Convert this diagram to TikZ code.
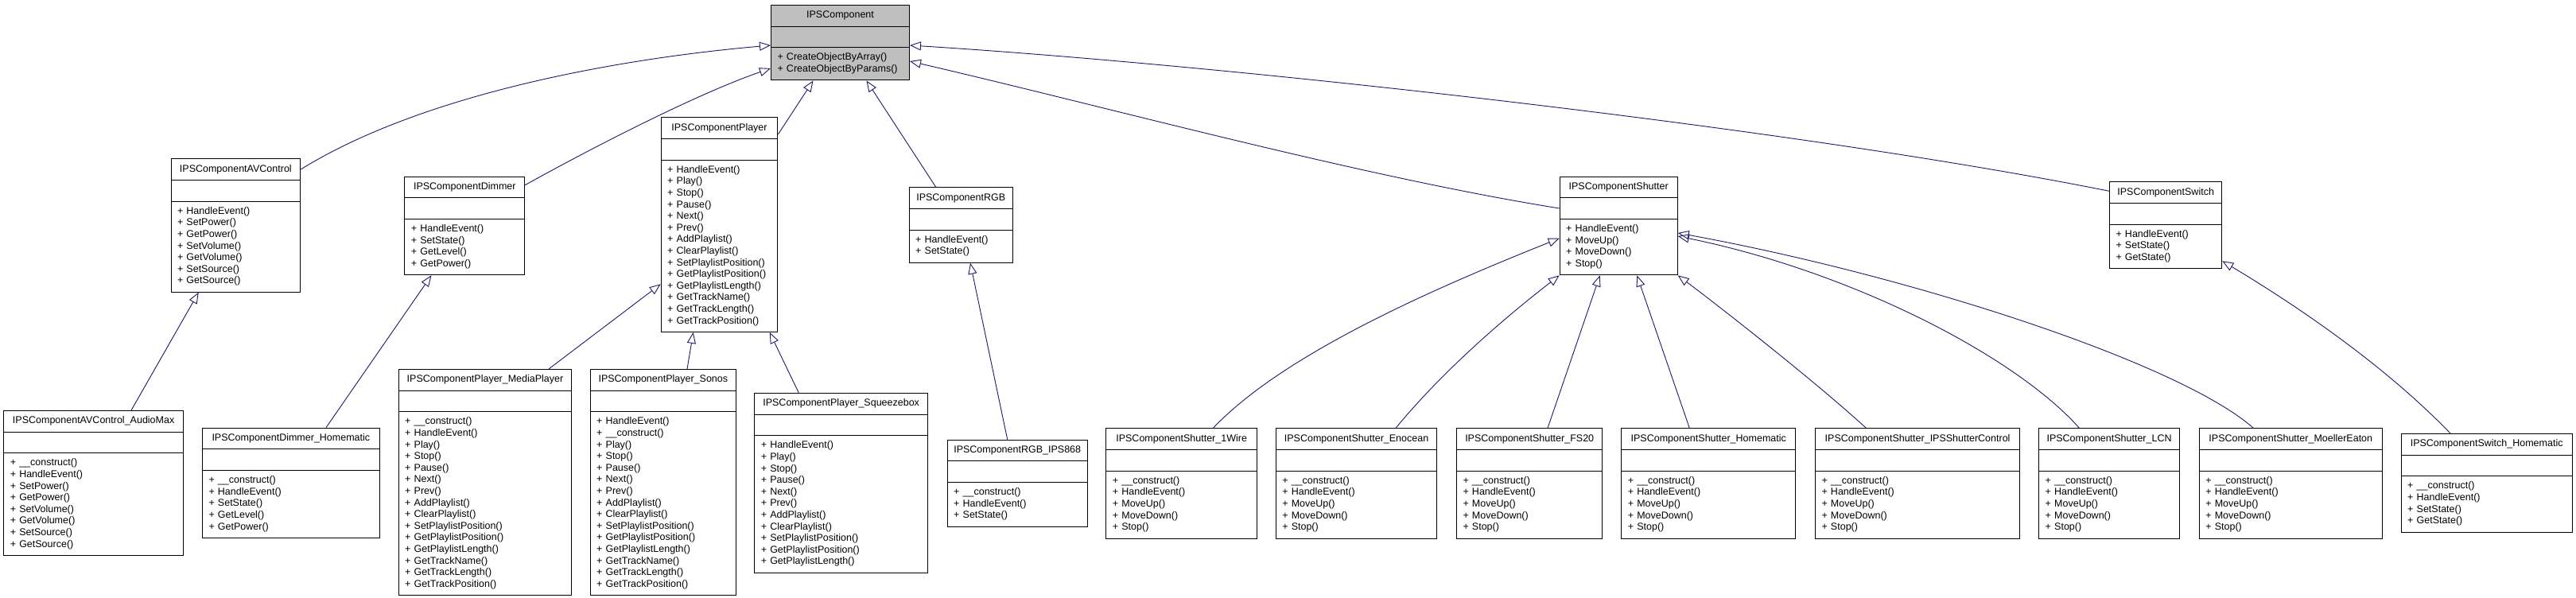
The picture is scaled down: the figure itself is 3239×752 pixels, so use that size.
\documentclass[tikz,border=0pt]{standalone}
\usepackage{fontspec}
\setmainfont{Liberation Sans}
\usetikzlibrary{shapes.multipart, arrows.meta, calc}
\definecolor{dedge}{HTML}{191970}
\definecolor{dgray}{HTML}{BFBFBF}
\tikzset{
  umlclass/.style={rectangle split, rectangle split parts=3, draw=black, line width=1pt,
                   fill=white, anchor=north west, inner xsep=8pt, inner ysep=5.5pt,
                   align=left, font=\fontsize{12.5}{14.6}\selectfont},
  inherit/.style={draw=dedge, line width=0.9pt, -{Triangle[open, length=14pt, width=11pt]}}
}
\newcommand{\umltitle}[1]{\strut\hfill #1\hfill\null\nodepart{two}\strut\nodepart{three}\strut}

\begin{document}
\begin{tikzpicture}[x=1pt, y=-1pt]
  \path[use as bounding box, fill=white] (0,0) rectangle (3239,752);

  % base class
  \node[umlclass, fill=dgray, text width=158pt] (base) at (969,6)
    {\umltitle{IPSComponent}+ CreateObjectByArray()\\+ CreateObjectByParams()\strut};

  % first level
  \node[umlclass, text width=146.7pt] (avctrl) at (214.5,199.3)
    {\umltitle{IPSComponentAVControl}+ HandleEvent()\\+ SetPower()\\+ GetPower()\\+ SetVolume()\\+ GetVolume()\\+ SetSource()\\+ GetSource()\strut};
  \node[umlclass, text width=134.8pt] (dimmer) at (508.4,221.7)
    {\umltitle{IPSComponentDimmer}+ HandleEvent()\\+ SetState()\\+ GetLevel()\\+ GetPower()\strut};
  \node[umlclass, text width=130.6pt] (player) at (830.7,147.3)
    {\umltitle{IPSComponentPlayer}+ HandleEvent()\\+ Play()\\+ Stop()\\+ Pause()\\+ Next()\\+ Prev()\\+ AddPlaylist()\\+ ClearPlaylist()\\+ SetPlaylistPosition()\\+ GetPlaylistPosition()\\+ GetPlaylistLength()\\+ GetTrackName()\\+ GetTrackLength()\\+ GetTrackPosition()\strut};
  \node[umlclass, text width=114pt] (rgb) at (1142.7,235.3)
    {\umltitle{IPSComponentRGB}+ HandleEvent()\\+ SetState()\strut};
  \node[umlclass, text width=132pt] (shutter) at (1960.7,221.7)
    {\umltitle{IPSComponentShutter}+ HandleEvent()\\+ MoveUp()\\+ MoveDown()\\+ Stop()\strut};
  \node[umlclass, text width=125.3pt] (switch) at (2652,228.3)
    {\umltitle{IPSComponentSwitch}+ HandleEvent()\\+ SetState()\\+ GetState()\strut};

  % second level
  \node[umlclass, text width=209.7pt] (audiomax) at (4.3,516)
    {\umltitle{IPSComponentAVControl\_AudioMax}+ \_\_construct()\\+ HandleEvent()\\+ SetPower()\\+ GetPower()\\+ SetVolume()\\+ GetVolume()\\+ SetSource()\\+ GetSource()\strut};
  \node[umlclass, text width=206.7pt] (dimhm) at (254,537.7)
    {\umltitle{IPSComponentDimmer\_Homematic}+ \_\_construct()\\+ HandleEvent()\\+ SetState()\\+ GetLevel()\\+ GetPower()\strut};
  \node[umlclass, text width=201.6pt] (mediaplayer) at (500.7,464)
    {\umltitle{IPSComponentPlayer\_MediaPlayer}+ \_\_construct()\\+ HandleEvent()\\+ Play()\\+ Stop()\\+ Pause()\\+ Next()\\+ Prev()\\+ AddPlaylist()\\+ ClearPlaylist()\\+ SetPlaylistPosition()\\+ GetPlaylistPosition()\\+ GetPlaylistLength()\\+ GetTrackName()\\+ GetTrackLength()\\+ GetTrackPosition()\strut};
  \node[umlclass, text width=167.3pt] (sonos) at (741.7,464)
    {\umltitle{IPSComponentPlayer\_Sonos}+ HandleEvent()\\+ \_\_construct()\\+ Play()\\+ Stop()\\+ Pause()\\+ Next()\\+ Prev()\\+ AddPlaylist()\\+ ClearPlaylist()\\+ SetPlaylistPosition()\\+ GetPlaylistPosition()\\+ GetPlaylistLength()\\+ GetTrackName()\\+ GetTrackLength()\\+ GetTrackPosition()\strut};
  \node[umlclass, text width=201.7pt] (squeeze) at (948.3,494)
    {\umltitle{IPSComponentPlayer\_Squeezebox}+ HandleEvent()\\+ Play()\\+ Stop()\\+ Pause()\\+ Next()\\+ Prev()\\+ AddPlaylist()\\+ ClearPlaylist()\\+ SetPlaylistPosition()\\+ GetPlaylistPosition()\\+ GetPlaylistLength()\strut};
  \node[umlclass, text width=160pt] (rgb868) at (1190.7,552.7)
    {\umltitle{IPSComponentRGB\_IPS868}+ \_\_construct()\\+ HandleEvent()\\+ SetState()\strut};
  \node[umlclass, text width=173.5pt] (wire1) at (1390.4,538.3)
    {\umltitle{IPSComponentShutter\_1Wire}+ \_\_construct()\\+ HandleEvent()\\+ MoveUp()\\+ MoveDown()\\+ Stop()\strut};
  \node[umlclass, text width=186.5pt] (enocean) at (1603.8,538.3)
    {\umltitle{IPSComponentShutter\_Enocean}+ \_\_construct()\\+ HandleEvent()\\+ MoveUp()\\+ MoveDown()\\+ Stop()\strut};
  \node[umlclass, text width=167.4pt] (fs20) at (1831,538.3)
    {\umltitle{IPSComponentShutter\_FS20}+ \_\_construct()\\+ HandleEvent()\\+ MoveUp()\\+ MoveDown()\\+ Stop()\strut};
  \node[umlclass, text width=202.9pt] (shhm) at (2038.3,538.3)
    {\umltitle{IPSComponentShutter\_Homematic}+ \_\_construct()\\+ HandleEvent()\\+ MoveUp()\\+ MoveDown()\\+ Stop()\strut};
  \node[umlclass, text width=241.2pt] (shctl) at (2282,538.3)
    {\umltitle{IPSComponentShutter\_IPSShutterControl}+ \_\_construct()\\+ HandleEvent()\\+ MoveUp()\\+ MoveDown()\\+ Stop()\strut};
  \node[umlclass, text width=160.7pt] (lcn) at (2563.2,538.3)
    {\umltitle{IPSComponentShutter\_LCN}+ \_\_construct()\\+ HandleEvent()\\+ MoveUp()\\+ MoveDown()\\+ Stop()\strut};
  \node[umlclass, text width=214pt] (moeller) at (2764.8,538.3)
    {\umltitle{IPSComponentShutter\_MoellerEaton}+ \_\_construct()\\+ HandleEvent()\\+ MoveUp()\\+ MoveDown()\\+ Stop()\strut};
  \node[umlclass, text width=198.9pt] (swhm) at (3018.7,545)
    {\umltitle{IPSComponentSwitch\_Homematic}+ \_\_construct()\\+ HandleEvent()\\+ SetState()\\+ GetState()\strut};

  % inheritance to base
  \draw[inherit] ($(avctrl.north east)+(0,13.7)$) .. controls +(150,-93) and +(-200,17.5) .. ($(base.north west)+(0,51)$);
  \draw[inherit] ($(dimmer.north east)+(0,11)$) .. controls +(90,-50) and +(-90,31) .. ($(base.north west)+(0,80)$);
  \draw[inherit] ($(player.north east)+(0,21.7)$) -- ($(base.south west)+(53.5,0)$);
  \draw[inherit] ($(rgb.north west)+(34,0)$) -- ($(base.south west)+(120.5,0)$);
  \draw[inherit] ($(shutter.north west)+(0,40.3)$) .. controls +(-250,-40) and +(250,58) .. ($(base.north east)+(0,71)$);
  \draw[inherit] ($(switch.north west)+(0,12)$) .. controls +(-400,-80) and +(400,25) .. ($(base.north east)+(0,51)$);

  % inheritance to first level
  \draw[inherit] ($(audiomax.north west)+(160.7,0)$) -- ($(avctrl.south west)+(35.2,0)$);
  \draw[inherit] ($(dimhm.north west)+(156,0)$) -- ($(dimmer.south west)+(34,0)$);
  \draw[inherit] ($(mediaplayer.north west)+(189.3,0)$) -- ($(player.north west)+(0,210)$);
  \draw[inherit] ($(sonos.north west)+(122.3,0)$) -- ($(player.south west)+(41,0)$);
  \draw[inherit] ($(squeeze.north west)+(56,0)$) -- ($(player.south west)+(137,0)$);
  \draw[inherit] ($(rgb868.north west)+(76,0)$) -- ($(rgb.south west)+(77.3,0)$);
  \draw[inherit] ($(wire1.north west)+(135,0)$) .. controls +(90,-95) and +(-150,60) .. ($(shutter.north west)+(0,78)$);
  \draw[inherit] ($(enocean.north west)+(151.2,0)$) .. controls +(70,-85) and +(-45,35) .. (shutter.south west);
  \draw[inherit] ($(fs20.north west)+(115,0)$) -- ($(shutter.south west)+(51,0)$);
  \draw[inherit] ($(shhm.north west)+(86,0)$) -- ($(shutter.south west)+(97.6,0)$);
  \draw[inherit] ($(shctl.north west)+(64.4,0)$) .. controls +(-60,-55) and +(60,45) .. (shutter.south east);
  \draw[inherit] ($(lcn.north west)+(51.3,0)$) .. controls +(-80,-90) and +(220,45) .. ($(shutter.north east)+(0,75.3)$);
  \draw[inherit] ($(moeller.north west)+(68.5,0)$) .. controls +(-90,-80) and +(300,55) .. ($(shutter.north east)+(0,71.3)$);
  \draw[inherit] ($(swhm.north west)+(62.3,0)$) .. controls +(-80,-83) and +(100,60) .. ($(switch.south east)+(0,-10)$);
\end{tikzpicture}
\end{document}
